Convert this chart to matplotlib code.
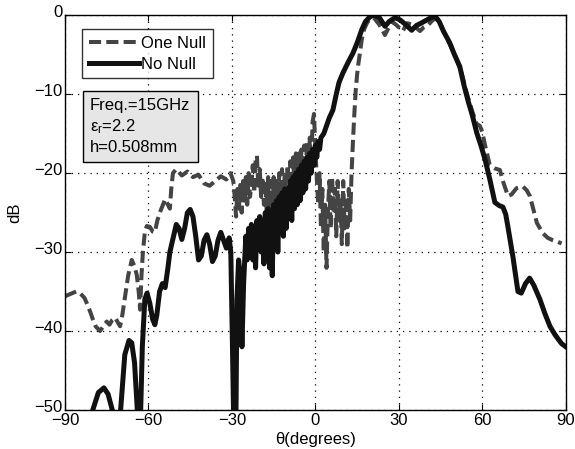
import matplotlib
matplotlib.use("Agg")
import matplotlib.pyplot as plt
import matplotlib.transforms as mtransforms

plt.rcParams["font.family"] = ["Liberation Sans", "DejaVu Sans"]

COLOUR_NO_NULL = "#111111"
COLOUR_ONE_NULL = "#444444"

# No Null (solid)
theta_no_null = [
    -81, -80, -78, -76, -74.5, -73, -71.5, -70, -68.5, -67, -66, -65, -64, -63,
    -62.2, -61.3, -60.5, -59.5, -58.5, -57.7, -57, -56, -55, -54, -53, -52.3,
    -51, -50, -49, -48, -47, -46, -45, -44, -43, -42, -41, -40, -39, -38, -37,
    -36, -35, -34, -33, -32, -31, -30.4, -29.8, -29.3, -28.6, -28.2, -27.6,
    -27, -26.4, -25.8,
    -25, -24.5, -24, -23.5, -23, -22.5, -22, -21.5, -21, -20.5, -20, -19.5,
    -19, -18.5, -18, -17.5, -17, -16.5, -16, -15.5, -15, -14.5, -14, -13.5,
    -13, -12.5, -12, -11.5, -11, -10.5, -10, -9.5, -9, -8.5, -8, -7.5, -7,
    -6.5, -6, -5.5, -5, -4.5, -4, -3.5, -3, -2.5, -2, -1.5, -1, -0.5, 0, 0.5,
    1, 1.5, 2,
    3, 4, 5, 6.3, 7.5, 8.5, 9.9, 11, 12, 13.5, 15, 16.7, 18, 19.6, 21, 23, 25,
    26.5, 28.6, 30.5, 32.5, 34.6, 36.3, 38, 40, 41.6, 43, 44.5, 46, 48.3, 50,
    51.9, 53.5, 55, 56.5, 58, 59.5, 61, 62.7, 64.5, 66, 67.4, 68.4, 69.2, 70,
    71, 72, 72.8, 74, 75.5, 77, 78.5, 80.7, 82.5, 84.3, 86, 87.2, 88.5, 90,
]
db_no_null = [
    -52, -50, -47.8, -47.2, -48, -50, -55, -50, -43, -41.2, -41.5, -44, -50, -53,
    -42, -36, -35.2, -36.5, -38.5, -39.2, -38, -35, -34, -34.5, -32, -30,
    -28, -26.5, -27, -28.4, -27, -25, -24.6, -25.5, -28, -31, -30.5, -28.5,
    -27.8, -29, -31.2, -30.5, -28.5, -27.5, -28.5, -29.5, -28.2, -30, -42,
    -53, -53, -36, -31, -33, -42, -34,
    -28, -31, -27, -30.5, -26.5, -31, -27, -32, -26, -29.5, -25.5, -30, -26,
    -31.5, -25, -29, -24.5, -32, -25, -33, -24, -29, -23.5, -30, -23, -27.5,
    -22.5, -28, -22, -27, -22, -25.5, -21, -26, -20.5, -24.5, -20, -24, -19.5,
    -23.5, -19, -22.5, -18.5, -22, -18, -21, -17.5, -20, -17, -19, -16.5, -18,
    -16, -17, -15.5,
    -15, -14, -13, -12, -10, -8.5, -7.3, -6.5, -5.8, -4.8, -3.5, -1.8, -0.8,
    -0.2, 0, -0.3, -1.4, -0.8, -0.3, -0.6, -1.2, -1.9, -1.3, -1.0, -0.6, -0.3,
    -0.1, -0.8, -2, -3.5, -5, -6.5, -9, -11, -12.8, -14.9, -16.5, -18.3,
    -20.8, -23.7, -24.1, -24.3, -25.2, -26.8, -28.5, -30.6, -33, -35, -35.2,
    -34, -33.3, -34.2, -36, -37.8, -39.4, -40.4, -41, -41.6, -42,
]

# One Null (dashed)
theta_one_null = [
    -90, -88, -86, -84.6, -83, -82, -81, -80, -79, -77.4, -76, -75, -74, -73,
    -72, -71, -70.2, -69.4, -68.4, -67.3, -66, -65, -64.2, -63.5, -63, -62.5,
    -62, -61.3, -60.6, -59.5, -58.5, -57.7, -56.8, -55.9, -55, -54, -53,
    -52.3, -51.8, -51.2, -50, -48, -46, -44, -42, -40, -38, -36, -34, -32,
    -30.5, -29.5,
    -29, -28.5, -28, -27.5, -27, -26.5, -26, -25.5, -25, -24.5, -24, -23.5,
    -23, -22.5, -22, -21.5, -21, -20.5, -20, -19.5, -19, -18.5, -18, -17.5,
    -17, -16.5, -16, -15.5, -15, -14.5, -14, -13.5, -13, -12.5, -12, -11.5,
    -11, -10.5, -10, -9.5, -9, -8.5, -8, -7.5, -7, -6.5, -6, -5.5, -5, -4.5,
    -4, -3.5, -3, -2.5, -2, -1.5, -1, -0.5, 0, 0.5, 1, 1.5, 2, 2.5, 3, 3.5,
    4, 4.5, 5, 5.5, 6, 6.5, 7, 7.5, 8, 8.5, 9, 9.5, 10, 10.5, 11, 11.5, 12,
    12.5, 13,
    13.5, 14, 14.5, 15, 15.5, 16, 16.7, 17.5, 18.5, 19.5, 21, 23, 25, 26,
    27.5, 29, 31.4, 33, 35, 37.6, 39, 40.6, 42.5, 44, 45, 46.5, 48.5, 50.5,
    52.5, 54.5, 56.5, 58, 59.1, 60, 61, 62.7, 64.5, 66.3, 67.4, 69.2, 70.5,
    72.3, 74.6, 76, 77.1, 78.5, 79.6, 81.7, 83.5, 85.3, 87, 88.5,
]
db_one_null = [
    -35.6, -35.3, -35.0, -35.2, -35.8, -36.6, -37.5, -38.5, -39.4, -40, -39.3,
    -38.8, -39.2, -38.6, -38.3, -38.9, -39.4, -38, -35.6, -33, -31, -31.8,
    -32.9, -35, -37.3, -33, -30, -27.5, -26.7, -26.8, -27.4, -27.5, -26, -25,
    -24.2, -23.3, -24, -24.5, -22, -20, -19.5, -20.3, -19.8, -20.5, -20.2,
    -21.3, -21.6, -21, -20.4, -20.8, -20, -21,
    -23, -25.5, -22, -24.5, -21.5, -25, -21, -23.5, -20.5, -24, -20, -23,
    -21.5, -19, -22.5, -18.5, -17.8, -22, -19.5, -23, -20.5, -24, -21, -25,
    -20.5, -26, -21, -27, -20.5, -25, -21, -26.5, -20, -24, -19.5, -23.5, -20,
    -24, -19, -22.5, -18.5, -23, -18, -22, -17.5, -21.5, -17.5, -21, -17, -22,
    -16.5, -20, -16, -21, -15.5, -19.5, -13.5, -12.5, -17, -20.5, -24, -20,
    -27, -22, -30, -24, -32, -25, -21, -27, -20.5, -25, -22, -28, -21, -26,
    -23, -29, -21, -27, -23, -29.5, -22, -26, -20,
    -16, -12.5, -9.5, -7.5, -6, -4.8, -3, -1.8, -1, -0.5, -0.3, -1.2, -2.5,
    -1.8, -0.8, -1.2, -2, -1, -1.2, -2, -1.5, -1.2, -0.5, -0.5, -1.2, -2.3,
    -3.8, -5.3, -7.3, -10, -12.3, -13.8, -14, -14.8, -16.5, -19, -19.4,
    -19.6, -21, -22.9, -22.7, -21.9, -21.7, -22.2, -22.9, -24.8, -26.3,
    -27.6, -28.2, -28.5, -28.7, -28.9,
]

x_ticks = [-90, -60, -30, 0, 30, 60, 90]
y_ticks = [-50, -40, -30, -20, -10, 0]

fig = plt.figure(figsize=(5.75, 4.49), dpi=100)
ax = fig.add_axes([0.113, 0.087, 0.871, 0.879])

ax.plot(theta_one_null, db_one_null, color=COLOUR_ONE_NULL, lw=2.9,
        dashes=(3, 1.3), solid_capstyle="butt", label="One Null")
ax.plot(theta_no_null, db_no_null, color=COLOUR_NO_NULL, lw=3.6,
        label="No Null")

ax.set_xlim(-90, 90)
ax.set_ylim(-50, 0)
ax.set_xticks(x_ticks)
ax.set_yticks(y_ticks)
ax.set_xticklabels([str(t).replace("-", "\u2212") for t in x_ticks])
ax.set_yticklabels([str(t).replace("-", "\u2212") for t in y_ticks])
ax.tick_params(direction="in", labelsize=12, length=4, top=True, right=True)
ax.tick_params(axis="x", pad=2)
ax.tick_params(axis="y", pad=2)
ax.grid(True, color="black", linestyle=(0, (1, 4)), linewidth=0.9)
for s in ax.spines.values():
    s.set_linewidth(1.0)

# y labels sit a little high in the original
shift_up = mtransforms.ScaledTranslation(0, 4 / 100, fig.dpi_scale_trans)
for lbl in ax.get_yticklabels():
    lbl.set_transform(lbl.get_transform() + shift_up)

ax.set_xlabel("\u03b8(degrees)", fontsize=12, labelpad=3)
ax.set_ylabel("dB", fontsize=12, labelpad=8)

leg = ax.legend(loc="upper left", bbox_to_anchor=(0.034, 0.965),
                fontsize=12, handlelength=3.0, borderpad=0.4,
                labelspacing=0.35, handletextpad=0.15, borderaxespad=0,
                frameon=True, fancybox=False)
leg.get_frame().set_edgecolor("black")
leg.get_frame().set_linewidth(1.0)

ax.text(0.05, 0.79, "Freq.=15GHz\n$\\mathregular{\\epsilon_r}$=2.2\nh=0.508mm",
        transform=ax.transAxes, fontsize=12, va="top", ha="left",
        linespacing=1.3,
        bbox=dict(boxstyle="square,pad=0.45", facecolor="#e6e6e6",
                  edgecolor="black", linewidth=1.0))

fig.savefig("out.png", dpi=100)
